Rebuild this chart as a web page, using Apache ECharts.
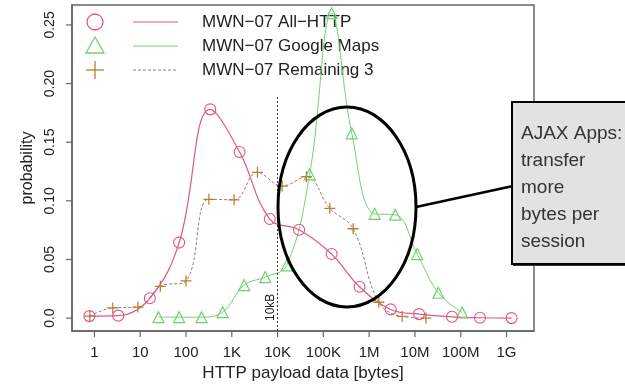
<!DOCTYPE html>
<html>
<head>
<meta charset="utf-8">
<script src="https://cdn.jsdelivr.net/npm/echarts@6/dist/echarts.min.js"></script>
<style>
  html, body { margin: 0; padding: 0; background: #fff; }
  #chart { width: 625px; height: 388px; }
</style>
</head>
<body>
<div id="chart"></div>
<script>
// x values are log10(bytes)
const tickExp = [0, 1, 2, 3, 4, 5, 6, 7, 8, 9]
const tickLabels = ['1', '10', '100', '1K', '10K', '100K', '1M', '10M', '100M', '1G']
const yTicks = [0, 0.05, 0.10, 0.15, 0.20, 0.25]
const yTickLabels = ['0.0', '0.05', '0.10', '0.15', '0.20', '0.25']

const allHttpX = [-0.11, 0.52, 1.21, 1.85, 2.53, 3.17, 3.83, 4.47, 5.18, 5.79, 6.47, 7.09, 7.81, 8.42, 9.11]
const allHttpY = [0.0017, 0.0021, 0.0169, 0.0644, 0.178, 0.1416, 0.0845, 0.0753, 0.0546, 0.0267, 0.0074, 0.0034, 0.0011, 0.0003, 0.0]

const mapsX = [1.40, 1.85, 2.34, 2.80, 3.27, 3.73, 4.20, 4.70, 5.18, 5.62, 6.12, 6.57, 7.05, 7.51, 8.03]
const mapsY = [0.0008, 0.0008, 0.0008, 0.0051, 0.0282, 0.035, 0.045, 0.1226, 0.26, 0.1576, 0.0889, 0.0882, 0.0546, 0.0216, 0.0048]

const restX = [-0.10, 0.40, 0.95, 1.44, 2.00, 2.50, 3.05, 3.56, 4.10, 4.63, 5.14, 5.65, 6.21, 6.72, 7.24]
const restY = [0.0017, 0.0087, 0.0094, 0.0271, 0.0317, 0.1013, 0.1009, 0.1243, 0.1126, 0.1206, 0.0936, 0.0762, 0.0135, 0.0014, 0.0]

const seriesNames = ['MWN−07 All−HTTP', 'MWN−07 Google Maps', 'MWN−07 Remaining 3']
const noteLines = ['AJAX Apps:', 'transfer', 'more', 'bytes per', 'session']

const X_MIN = -0.49
const X_MAX = 9.6
const Y_MIN = -0.011
const Y_MAX = 0.267

const PINK = '#e0548a'
const GREEN = '#72d072'
const BROWN = '#b5803a'
const BROWN_LINE = '#9c7d60'
const FONT = 'Liberation Sans'
const CLEAR = 'rgba(0,0,0,0)'
const FRAME = '#666'

const zip = (xs, ys) => xs.map((x, i) => [x, ys[i]])

const chart = echarts.init(document.getElementById('chart'))

// legend drawn by hand: symbol, line sample, text (R style)
const legendRows = [22, 46, 70]
const legendGraphics = []
legendRows.forEach((y, i) => {
  if (i === 0) {
    legendGraphics.push({ type: 'circle', shape: { cx: 95, cy: y, r: 8 }, style: { fill: 'none', stroke: PINK, lineWidth: 1.3 } })
  } else if (i === 1) {
    legendGraphics.push({ type: 'polygon', shape: { points: [[95, y - 9], [86, y + 7], [104, y + 7]] }, style: { fill: 'none', stroke: GREEN, lineWidth: 1.3 } })
  } else {
    legendGraphics.push({ type: 'line', shape: { x1: 86, y1: y, x2: 104, y2: y }, style: { stroke: BROWN, lineWidth: 1.3 } })
    legendGraphics.push({ type: 'line', shape: { x1: 95, y1: y - 9, x2: 95, y2: y + 9 }, style: { stroke: BROWN, lineWidth: 1.3 } })
  }
  legendGraphics.push({
    type: 'line',
    shape: { x1: 133, y1: y, x2: 178, y2: y },
    style: { stroke: [PINK, GREEN, BROWN_LINE][i], lineWidth: 1, lineDash: i === 2 ? [3, 2] : null }
  })
  legendGraphics.push({
    type: 'text', x: 202, y: y,
    style: { text: seriesNames[i], fill: '#222', font: '17px "' + FONT + '"', verticalAlign: 'middle' }
  })
})

const baseGraphics = legendGraphics.concat([
  { type: 'ellipse', shape: { cx: 347, cy: 207, rx: 69, ry: 100 }, style: { fill: 'none', stroke: '#000', lineWidth: 3 }, z: 100 },
  { type: 'line', shape: { x1: 416, y1: 207, x2: 513, y2: 186 }, style: { stroke: '#000', lineWidth: 2.5 }, z: 100 },
  { type: 'rect', shape: { x: 513, y: 103, width: 130, height: 163 }, style: { fill: '#333' }, z: 100 },
  { type: 'rect', shape: { x: 512, y: 102, width: 130, height: 162 }, style: { fill: '#e2e2e2', stroke: '#000', lineWidth: 2 }, z: 101 },
  {
    type: 'text', x: 521, y: 120, z: 102,
    style: { text: noteLines.join('\n'), fill: '#333', font: '19px "' + FONT + '"', lineHeight: 27 }
  }
])

const option = {
  animation: false,
  textStyle: { fontFamily: FONT },
  grid: { left: 72, top: 5, right: 91, bottom: 57, show: true, borderColor: FRAME, borderWidth: 1.5 },
  xAxis: {
    type: 'value', min: X_MIN, max: X_MAX,
    name: 'HTTP payload data [bytes]', nameLocation: 'middle', nameGap: 33,
    nameTextStyle: { fontSize: 17, color: '#222' },
    axisLine: { show: true, onZero: false, lineStyle: { color: FRAME, width: 1.5 } },
    splitLine: { show: false },
    axisTick: { show: false },
    axisLabel: {
      customValues: tickExp, margin: 14, fontSize: 15, color: '#222',
      formatter: v => tickLabels[tickExp.indexOf(Math.round(v))]
    }
  },
  yAxis: {
    type: 'value', min: Y_MIN, max: Y_MAX,
    name: 'probability', nameLocation: 'middle', nameGap: 36,
    nameTextStyle: { fontSize: 16, color: '#222' },
    axisLine: { show: true, onZero: false, lineStyle: { color: FRAME, width: 1.5 } },
    splitLine: { show: false },
    axisTick: { show: false },
    axisLabel: {
      customValues: yTicks, rotate: 90, margin: 15, fontSize: 14, color: '#222',
      formatter: v => yTickLabels[yTicks.findIndex(t => Math.abs(t - v) < 1e-6)]
    }
  },
  series: [
    {
      name: seriesNames[1], type: 'line', smooth: 0.4, data: zip(mapsX, mapsY),
      symbol: 'triangle', symbolSize: 11,
      itemStyle: { color: CLEAR, borderColor: GREEN, borderWidth: 1.2 },
      lineStyle: { color: GREEN, width: 1 }
    },
    {
      name: seriesNames[2], type: 'line', smooth: 0.4, data: zip(restX, restY),
      symbol: 'path://M0,5L10,5M5,0L5,10', symbolSize: 11,
      itemStyle: { color: CLEAR, borderColor: BROWN, borderWidth: 1.3 },
      lineStyle: { color: BROWN_LINE, width: 1, type: [3, 2] }
    },
    {
      name: seriesNames[0], type: 'line', smooth: 0.4, data: zip(allHttpX, allHttpY),
      symbol: 'circle', symbolSize: 11,
      itemStyle: { color: CLEAR, borderColor: PINK, borderWidth: 1.1 },
      lineStyle: { color: PINK, width: 1.2 },
      markLine: {
        silent: true, symbol: 'none',
        lineStyle: { color: '#333', width: 1, type: [2, 2] },
        label: {
          show: true, formatter: '10kB', position: 'insideStartTop',
          fontSize: 12, color: '#222', distance: 1, padding: [0, 0, 0, 9]
        },
        data: [[{ coord: [4, Y_MIN] }, { coord: [4, 0.19] }]]
      }
    }
  ],
  graphic: baseGraphics
}

chart.setOption(option)

// tick marks: positions come from the chart's own scales
const toPx = (x, y) => chart.convertToPixel({ gridIndex: 0 }, [x, y])
const tickGraphics = []
tickExp.forEach(v => {
  const p = toPx(v, Y_MIN)
  tickGraphics.push({ type: 'line', shape: { x1: p[0], y1: p[1], x2: p[0], y2: p[1] + 6 }, style: { stroke: FRAME, lineWidth: 1.2 } })
})
yTicks.forEach(v => {
  const p = toPx(X_MIN, v)
  tickGraphics.push({ type: 'line', shape: { x1: p[0], y1: p[1], x2: p[0] - 6, y2: p[1] }, style: { stroke: FRAME, lineWidth: 1.2 } })
})
chart.setOption({ graphic: baseGraphics.concat(tickGraphics) })
</script>
</body>
</html>
